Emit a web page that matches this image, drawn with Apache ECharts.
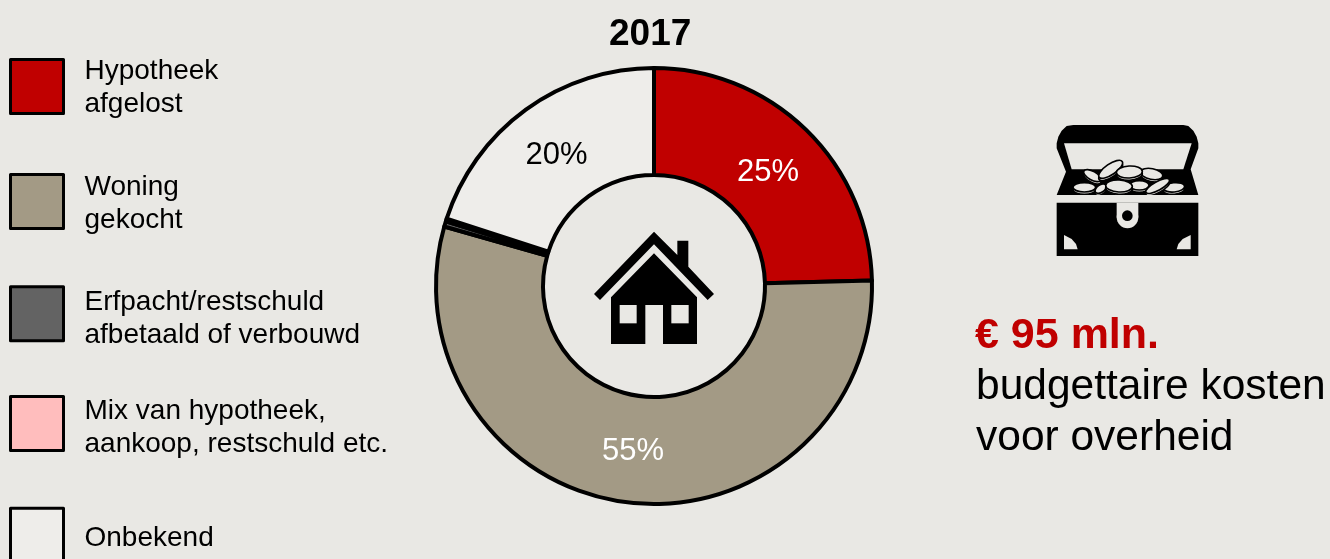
<!DOCTYPE html>
<html><head><meta charset="utf-8">
<style>html,body{margin:0;padding:0;background:#E9E8E4;overflow:hidden}#c{width:1330px;height:559px}</style>
<script src="https://cdn.jsdelivr.net/npm/echarts@6/dist/echarts.min.js"></script>
</head><body><div id="c"></div>
<script>
const titleText = '2017';
const categories = ['Hypotheek\nafgelost','Woning\ngekocht','Erfpacht/restschuld\nafbetaald of verbouwd','Mix van hypotheek,\naankoop, restschuld etc.','Onbekend'];
const shares = [24.6, 54.8, 0.4, 0.2, 20.0];
const sliceColors = ['#C00000','#A39A85','#636363','#FFBDBD','#EEEDEA'];
const labelColors = ['#fff','#fff','#000','#000','#000'];
const labelOffsets = [[-3,6],[0,-1],[0,0],[0,0],[1,5]];
const BG = '#E9E8E4';
const FONT = '"Liberation Sans", Arial, sans-serif';
const BOX = 54, LINE = 33;
const boxTops = [58.5,174.5,289.8,398.5,506.8];
const textShift = [2,4,10,8,5];

const chart = echarts.init(document.getElementById('c'), null, {renderer:'canvas'});

const coins = [
 [157,197,25,10,-0.5],[133,232,30,11,0],[402,232,28,11,0.1],[182,236,15,8,0.6],
 [335,192,30,13,-0.2],[212,178,38,13,0.6],[268,186,35,15,0.05],
 [298,226,25,11,0],[353,228,36,10,0.5],[237,228,36,15,-0.05]
];
const coinEls = [];
coins.forEach(c=>{
  const shape={cx:0,cy:0,rx:c[2]+4,ry:c[3]+3};
  coinEls.push({type:'ellipse',x:c[0],y:c[1]+7,rotation:c[4],shape,style:{fill:BG,stroke:'#000',lineWidth:5}});
  coinEls.push({type:'ellipse',x:c[0],y:c[1],rotation:c[4],shape,style:{fill:BG,stroke:'#000',lineWidth:5}});
});
const poly = (points,fill)=>({type:'polygon',shape:{points},style:{fill}});

chart.setOption({
  animation:false,
  backgroundColor:BG,
  title:{text:titleText,left:604,top:11,textStyle:{fontFamily:FONT,fontSize:37,fontWeight:'bold',color:'#000'}},
  legend:categories.map((name,i)=>{
    const lines=name.split('\n');
    const H=Math.max(BOX,lines.length*LINE+textShift[i]);
    return {
      data:[name],orient:'vertical',left:9,top:boxTops[i]-(H-BOX)/2,padding:0,
      itemWidth:53,itemHeight:BOX,itemGap:0,selectedMode:false,icon:'rect',
      itemStyle:{borderColor:'#000',borderWidth:3},
      formatter:n=>'{s| }\n'+n.split('\n').map(l=>'{t|'+l+'}').join('\n'),
      textStyle:{padding:[0,0,0,16],rich:{
        s:{fontSize:4,lineHeight:textShift[i],fontFamily:FONT},
        t:{fontFamily:FONT,fontSize:28,lineHeight:LINE,color:'#000'}
      }}
    };
  }),
  series:[{
    type:'pie',center:[654,286],radius:[111,218],startAngle:90,clockwise:true,silent:true,
    percentPrecision:0,
    itemStyle:{borderColor:'#000',borderWidth:4},
    label:{position:'inside',formatter:'{d}%',fontFamily:FONT,fontSize:31},
    labelLine:{show:false},
    emphasis:{disabled:true},
    data:categories.map((name,i)=>({
      name,value:shares[i],
      itemStyle:{color:sliceColors[i]},
      label:{show:shares[i]>1,color:labelColors[i],offset:labelOffsets[i]}
    }))
  }],
  graphic:[
    {type:'group',x:570,y:210,scaleX:1/3,scaleY:1/3,silent:true,children:[
      poly([[252,65],[322,135],[322,92],[355,92],[355,170],[432,252],[413,270],[252,103],[90,270],[72,252]],'#000'),
      poly([[252,130],[381,262],[381,402],[279,402],[279,285],[226,285],[226,402],[123,402],[123,262]],'#000'),
      {type:'rect',shape:{x:149,y:285,width:51,height:55},style:{fill:BG}},
      {type:'rect',shape:{x:304,y:285,width:52,height:55},style:{fill:BG}}
    ]},
    {type:'group',x:1040,y:110,scaleX:1/3,scaleY:1/3,silent:true,children:[
      poly([[100,45],[430,45],[445,48],[460,62],[470,80],[475,100],[475,115],[452,178],[475,255],[50,255],[78,185],[50,115],[50,100],[55,80],[65,62],[80,48]],'#000'),
      poly([[72,100],[455,100],[430,178],[95,178]],BG),
      ...coinEls,
      {type:'rect',shape:{x:40,y:255,width:445,height:23},style:{fill:BG}},
      {type:'rect',shape:{x:50,y:278,width:425,height:160},style:{fill:'#000'}},
      {type:'rect',shape:{x:230,y:278,width:65,height:44},style:{fill:BG}},
      {type:'circle',shape:{cx:262.5,cy:322,r:32.5},style:{fill:BG}},
      {type:'circle',shape:{cx:262,cy:317,r:16},style:{fill:'#000'}},
      poly([[72,375],[72,418],[113,418],[108,402],[95,387]],BG),
      poly([[452,375],[452,418],[410,418],[415,402],[428,387]],BG)
    ]},
    {type:'text',x:975,y:336,silent:true,style:{text:'€ 95 mln.',fontFamily:FONT,fontSize:43,fontWeight:'bold',fill:'#C00000',verticalAlign:'middle'}},
    {type:'text',x:976,y:387,silent:true,style:{text:'budgettaire kosten',fontFamily:FONT,fontSize:42.5,fill:'#000',verticalAlign:'middle'}},
    {type:'text',x:976,y:438,silent:true,style:{text:'voor overheid',fontFamily:FONT,fontSize:42.5,fill:'#000',verticalAlign:'middle'}}
  ]
});
</script></body></html>
